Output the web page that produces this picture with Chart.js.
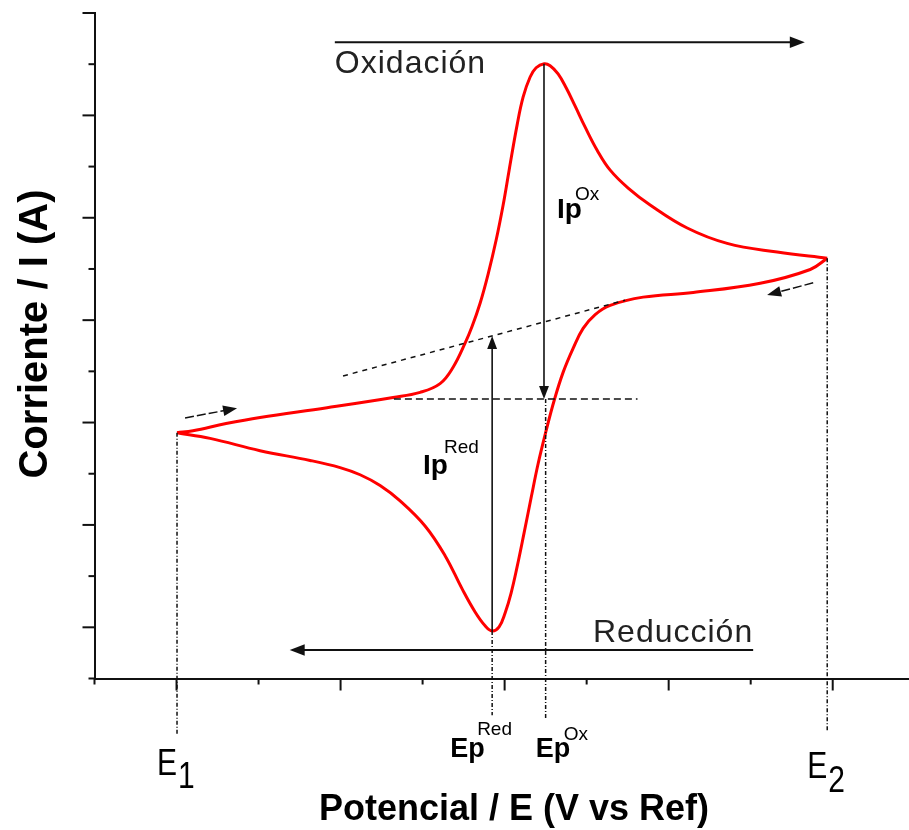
<!DOCTYPE html>
<html>
<head>
<meta charset="utf-8">
<title>Voltamperograma cíclico</title>
<script src="https://cdn.jsdelivr.net/npm/chart.js@4.4.1/dist/chart.umd.min.js"></script>
<style>
  html, body { margin: 0; padding: 0; background: #fff; }
  canvas { display: block; }
</style>
</head>
<body>
<canvas id="cv_chart" width="909" height="830"></canvas>
<script>
// barrido directo (oxidacion), de E1 a E2
var fwdE = [1.006, 1.201, 1.604, 2.018, 2.835, 3.640, 3.970, 4.213, 4.372, 4.518, 4.604, 4.701, 4.799, 4.896, 4.982, 5.055, 5.152, 5.226, 5.311, 5.384, 5.482, 5.555, 5.652, 5.750, 5.860, 5.982, 6.128, 6.287, 6.506, 6.774, 7.226, 7.713, 8.323, 8.933];
var fwdI = [4.80, 4.84, 4.98, 5.10, 5.29, 5.49, 5.59, 5.76, 6.08, 6.55, 6.88, 7.33, 7.90, 8.56, 9.25, 9.93, 10.81, 11.36, 11.75, 11.93, 12.01, 11.97, 11.81, 11.54, 11.18, 10.77, 10.32, 9.93, 9.58, 9.25, 8.80, 8.50, 8.33, 8.21];

// barrido inverso (reduccion), listado tambien de E1 a E2
var revE = [1.006, 1.409, 2.018, 2.628, 2.994, 3.238, 3.482, 3.726, 4.030, 4.274, 4.482, 4.640, 4.762, 4.848, 4.933, 5.006, 5.079, 5.152, 5.238, 5.323, 5.409, 5.506, 5.604, 5.713, 5.835, 5.957, 6.104, 6.287, 6.689, 7.299, 8.116, 8.726, 8.933];
var revI = [4.80, 4.69, 4.45, 4.26, 4.12, 3.98, 3.77, 3.47, 2.98, 2.40, 1.75, 1.30, 1.03, 0.93, 1.01, 1.28, 1.67, 2.18, 2.85, 3.53, 4.20, 4.84, 5.43, 5.98, 6.45, 6.84, 7.11, 7.29, 7.45, 7.54, 7.72, 7.99, 8.21];

// marcas de los ejes (sin etiquetas numericas), las impares son largas
var xTickVals = [0, 1, 2, 3, 4, 5, 6, 7, 8, 9];
var yTickVals = [0, 1, 2, 3, 4, 5, 6, 7, 8, 9, 10, 11, 12, 13];

// potenciales y corrientes senalados
var E1 = 1.006, E2 = 8.933, EpRed = 4.848, EpOx = 5.50;
var IpOxE = 5.48, IpOxTop = 12.01, IpRedBottom = 0.93;
var baseOx = 5.46, baseOxE = [3.65, 6.62];     // linea base horizontal
var baseRedE = [3.03, 6.47], baseRedI = [5.91, 7.39]; // linea base inclinada
var dropTo = -1.1; // hasta donde bajan las lineas punteadas

function init(){
    var ctx = document.getElementById('cv_chart').getContext('2d');

    var annotations = {
        id: 'annotations',
        afterDraw: function(chart){
            var c = chart.ctx;
            var xs = chart.scales.x, ys = chart.scales.y;
            function px(v){ return xs.getPixelForValue(v); }
            function py(v){ return ys.getPixelForValue(v); }

            function line(x1, y1, x2, y2, lw, dash){
                c.save();
                c.lineWidth = lw;
                c.setLineDash(dash || []);
                c.beginPath(); c.moveTo(x1, y1); c.lineTo(x2, y2); c.stroke();
                c.restore();
            }
            function arrow(x1, y1, x2, y2, head, lw, dash){
                var a = Math.atan2(y2 - y1, x2 - x1);
                var ca = Math.cos(a), sa = Math.sin(a);
                line(x1, y1, x2 - ca * head * 0.7, y2 - sa * head * 0.7, lw, dash);
                c.beginPath();
                c.moveTo(x2, y2);
                c.lineTo(x2 - head * ca + head * 0.38 * sa, y2 - head * sa - head * 0.38 * ca);
                c.lineTo(x2 - head * ca - head * 0.38 * sa, y2 - head * sa + head * 0.38 * ca);
                c.closePath();
                c.fill();
            }
            function label(txt, x, y, font, sy){
                c.save();
                c.translate(x, y);
                c.scale(1, sy || 1);
                c.font = font;
                c.fillText(txt, 0, 0);
                c.restore();
            }

            c.save();
            c.strokeStyle = '#111';
            c.fillStyle = '#111';

            // marcas de los ejes
            xTickVals.forEach(function(v){
                line(px(v), ys.bottom, px(v), ys.bottom + (v % 2 ? 12 : 6), 2);
            });
            yTickVals.forEach(function(v){
                line(xs.left, py(v), xs.left - (v % 2 ? 12 : 6), py(v), 2);
            });

            // lineas verticales punteadas hacia el eje
            var dd = [4, 2, 1, 2];
            line(px(E1), py(fwdI[0]), px(E1), py(dropTo), 1.5, dd);
            line(px(E2), py(fwdI[fwdI.length - 1]), px(E2), py(dropTo + 0.08), 1.5, dd);
            line(px(EpRed), py(IpRedBottom), px(EpRed), py(-0.72), 1.5, dd);
            line(px(EpOx), py(baseOx), px(EpOx), py(-0.78), 1.5, dd);

            // lineas base
            line(px(baseOxE[0]), py(baseOx), px(baseOxE[1]), py(baseOx), 1.5, [7, 4]);
            line(px(baseRedE[0]), py(baseRedI[0]), px(baseRedE[1]), py(baseRedI[1]), 1.5, [5, 5]);

            // flechas de corriente de pico
            var redTop = baseRedI[0] + (EpRed - baseRedE[0]) * (baseRedI[1] - baseRedI[0]) / (baseRedE[1] - baseRedE[0]);
            arrow(px(IpOxE), py(IpOxTop), px(IpOxE), py(baseOx), 13, 1.6);
            arrow(px(EpRed), py(IpRedBottom), px(EpRed), py(redTop), 13, 1.6);

            // flechas de sentido del barrido
            arrow(px(2.93), py(12.43), px(8.66), py(12.43), 15, 2);
            arrow(px(8.03), py(0.557), px(2.38), py(0.557), 15, 2);
            arrow(px(1.104), py(5.09), px(1.738), py(5.28), 14, 1.5, [9, 3]);
            arrow(px(8.762), py(7.73), px(8.20), py(7.49), 14, 1.5, [9, 3]);

            // textos
            c.fillStyle = '#000';
            c.textAlign = 'left';
            c.textBaseline = 'alphabetic';
            var ff = "'Liberation Sans', Arial, sans-serif";
            c.save();
            c.fillStyle = '#222';
            c.letterSpacing = '1px';
            label('Oxidación', px(2.93), 73, '32px ' + ff);
            label('Reducción', 593, 642, '32px ' + ff);
            c.restore();

            label('Ip', 557, 218, 'bold 28px ' + ff);
            label('Ox', 575, 200, '19px ' + ff);
            label('Ip', 423, 474, 'bold 28px ' + ff);
            label('Red', 444, 453, '19px ' + ff);

            label('Ep', px(EpRed) - 42, 757, 'bold 27px ' + ff);
            label('Red', px(EpRed) - 15, 735, '19px ' + ff);
            label('Ep', px(EpOx) - 10, 757, 'bold 27px ' + ff);
            label('Ox', px(EpOx) + 18, 740, '19px ' + ff);

            label('E', px(E1) - 20, 775, '30px ' + ff, 1.25);
            label('1', px(E1) + 1, 788, '30px ' + ff, 1.25);
            label('E', px(E2) - 20, 778, '30px ' + ff, 1.25);
            label('2', px(E2) + 1, 792, '30px ' + ff, 1.25);

            // titulos de los ejes
            c.textAlign = 'center';
            c.font = 'bold 36px ' + ff;
            c.fillText('Potencial / E (V vs Ref)', 514, 820);
            c.save();
            c.translate(47, 334);
            c.rotate(-Math.PI / 2);
            c.font = 'bold 40px ' + ff;
            c.fillText('Corriente / I (A)', 0, 0);
            c.restore();

            c.restore();
        }
    };

    function pts(xv, yv){
        return xv.map(function(v, i){ return {x: v, y: yv[i]}; });
    }

    var chart = new Chart(ctx, {
        type: 'scatter',
        data: {
            datasets: [{
                label: 'Oxidación',
                data: pts(fwdE, fwdI),
                showLine: true,
                borderColor: '#ff0000',
                borderWidth: 3,
                pointRadius: 0,
                tension: 0.4
            }, {
                label: 'Reducción',
                data: pts(revE, revI),
                showLine: true,
                borderColor: '#ff0000',
                borderWidth: 3,
                pointRadius: 0,
                tension: 0.4
            }]
        },
        options: {
            responsive: false,
            animation: false,
            layout: {
                padding: {left: 94.5, top: 13, right: 0, bottom: 151.5},
                autoPadding: false
            },
            plugins: {
                legend: {display: false},
                tooltip: {enabled: false}
            },
            scales: {
                x: {
                    type: 'linear', min: 0, max: 9.93,
                    ticks: {display: false},
                    grid: {display: false, drawTicks: false},
                    border: {display: true, color: '#111', width: 2}
                },
                y: {
                    type: 'linear', min: 0, max: 13,
                    ticks: {display: false},
                    grid: {display: false, drawTicks: false},
                    border: {display: true, color: '#111', width: 2}
                }
            }
        },
        plugins: [annotations]
    });
}

window.onload = init;
</script>
</body>
</html>
